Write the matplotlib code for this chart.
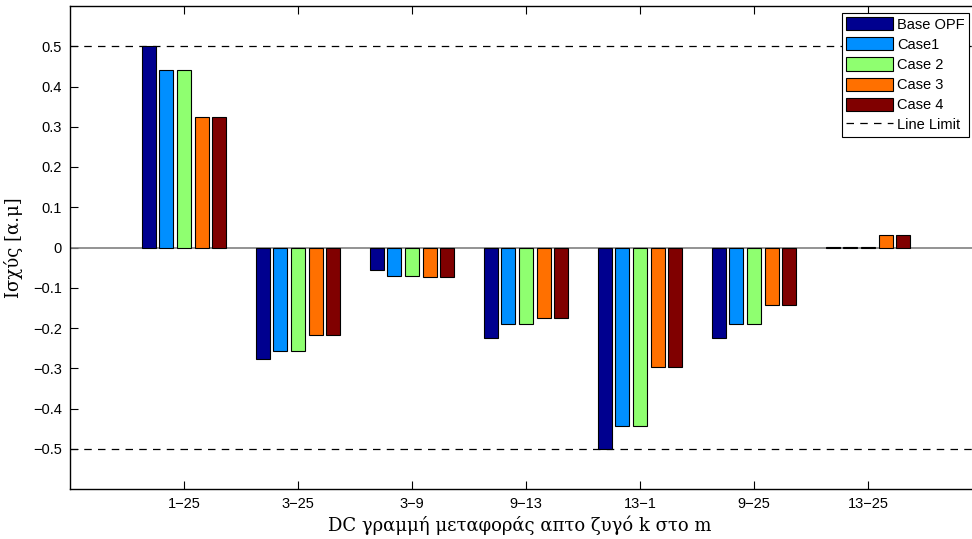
import numpy as np
import matplotlib
matplotlib.use('Agg')
import matplotlib.pyplot as plt

# data
lines = ['1\u221225', '3\u221225', '3\u22129', '9\u221213', '13\u22121', '9\u221225', '13\u221225']
base_opf = [0.500, -0.278, -0.055, -0.224, -0.500, -0.225, 0.001]
case1 = [0.442, -0.258, -0.071, -0.189, -0.444, -0.189, 0.001]
case2 = [0.442, -0.258, -0.071, -0.189, -0.444, -0.189, 0.001]
case3 = [0.325, -0.217, -0.074, -0.174, -0.297, -0.142, 0.030]
case4 = [0.325, -0.217, -0.074, -0.174, -0.297, -0.142, 0.030]
line_limit = 0.5

names = ['Base OPF', 'Case1', 'Case 2', 'Case 3', 'Case 4']
colors = ['#00008f', '#008fff', '#8fff70', '#ff7000', '#800000']
series = [base_opf, case1, case2, case3, case4]

fig = plt.figure(figsize=(9.72, 5.39), dpi=100)
ax = fig.add_axes([70/972, 1-489/539, 912/972, 483/539])

x = np.arange(1, len(lines) + 1)
step = 0.769 / 5
handles = []
for i, (vals, c, n) in enumerate(zip(series, colors, names)):
    h = ax.bar(x + (i - 2) * step, vals, width=0.8 * step, color=c, edgecolor='black',
               linewidth=0.8, label=n, zorder=3)
    handles.append(h)

ax.axhline(0, color='#808080', linewidth=1.2, zorder=2)
hl, = ax.plot([0, 8], [line_limit, line_limit], color='black', linestyle=(0, (6, 5)),
              linewidth=0.9, label='Line Limit', zorder=1)
ax.plot([0, 8], [-line_limit, -line_limit], color='black', linestyle=(0, (6, 5)),
        linewidth=0.9, zorder=1)
handles.append(hl)

ax.set_xlim(0, 8)
ax.set_ylim(-0.6, 0.6)
ax.set_xticks(x)
ax.set_xticklabels(lines)
ax.set_yticks(np.arange(-5, 6) / 10)
ax.set_yticklabels(['\u22120.5', '\u22120.4', '\u22120.3', '\u22120.2', '\u22120.1', '0',
                    '0.1', '0.2', '0.3', '0.4', '0.5'])
ax.tick_params(direction='in', top=True, right=False, length=6, width=0.8,
               labelsize=10.5, pad=6)
for lab in ax.get_xticklabels() + ax.get_yticklabels():
    lab.set_family('Liberation Sans')
for s in ax.spines.values():
    s.set_linewidth(1.0)
ax.spines['right'].set_visible(False)

ax.set_xlabel('DC γραμμή μεταφοράς απτο ζυγό k στο m', family='DejaVu Serif',
              fontsize=13)
ax.set_ylabel('Ισχύς [α.μ]', family='DejaVu Serif', fontsize=13)
ax.xaxis.set_label_coords((520 - 70) / 912, -0.055)
ax.yaxis.set_label_coords(-0.052, 0.5)

leg = ax.legend(handles=handles, loc='upper right', bbox_to_anchor=(969/972, 1 - 13/539),
                bbox_transform=fig.transFigure, fancybox=False, framealpha=1,
                edgecolor='black', prop={'family': 'Liberation Sans', 'size': 10.5},
                handlelength=3.2, handleheight=1.0, handletextpad=0.3,
                labelspacing=0.38, borderpad=0.3, borderaxespad=0)
leg.get_frame().set_linewidth(0.8)

fig.savefig('out.png', dpi=100)
